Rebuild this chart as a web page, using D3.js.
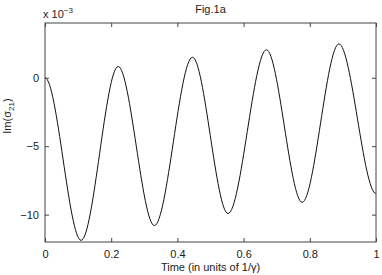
<!DOCTYPE html>
<html>
<head>
<meta charset="utf-8">
<script src="https://cdn.jsdelivr.net/npm/d3@7"></script>
<style>
  body { margin: 0; background: #fff; }
  text { font-family: "Liberation Sans", Arial, sans-serif; fill: #222; }
</style>
</head>
<body>
<div class="PlotHolder"></div>
<script>
// curve turning points (units of 1e-3)
const times = [0, 0.109, 0.221, 0.3305, 0.4455, 0.553, 0.669, 0.777, 0.888, 1.0];
const imSigma = [0, -11.88, 0.82, -10.8, 1.5, -9.92, 2.04, -9.1, 2.47, -8.46];
const xTicks = [0, 0.2, 0.4, 0.6, 0.8, 1];
const xTickLabels = ["0", "0.2", "0.4", "0.6", "0.8", "1"];
const yTicks = [0, -5, -10];
const yTickLabels = ["0", "\u22125", "\u221210"];

const w = 382, h = 275;
const margin = { top: 23, right: 6, bottom: 33, left: 45 };
const width = w - margin.left - margin.right;
const height = h - margin.top - margin.bottom;

// hermite curve with flat tangent at every point (the points are turning points)
class FlatHermite {
  constructor(context) { this._context = context; }
  areaStart() {}
  areaEnd() {}
  lineStart() { this._x = this._y = NaN; this._point = 0; }
  lineEnd() {}
  point(x, y) {
    x = +x; y = +y;
    if (this._point === 0) {
      this._context.moveTo(x, y);
      this._point = 1;
    } else {
      const dx = (x - this._x) / 3;
      this._context.bezierCurveTo(this._x + dx, this._y, x - dx, y, x, y);
    }
    this._x = x; this._y = y;
  }
}
const curveFlat = context => new FlatHermite(context);

const root = d3.select(".PlotHolder").append("svg")
  .attr("width", w)
  .attr("height", h);
const svg = root.append("g")
  .attr("transform", `translate(${margin.left},${margin.top})`);

const xScale = d3.scaleLinear().domain([0, 1]).range([0, width]);
const yScale = d3.scaleLinear().domain([-12, 4]).range([height, 0]);

const axisColor = "#444";
const tickLen = 4;

// curve
const data = times.map((t, i) => ({ t: t, v: imSigma[i] }));
const line = d3.line()
  .x(d => xScale(d.t))
  .y(d => yScale(d.v))
  .curve(curveFlat);

svg.append("path")
  .datum(data)
  .attr("d", line)
  .attr("fill", "none")
  .attr("stroke", "#111")
  .attr("stroke-width", 1);

// box
svg.append("rect")
  .attr("x", 0).attr("y", 0)
  .attr("width", width).attr("height", height)
  .attr("fill", "none")
  .attr("stroke", axisColor)
  .attr("stroke-width", 1);

// ticks (inside, all four sides)
const fmtX = d => xTickLabels[xTicks.indexOf(d)];
const fmtY = d => yTickLabels[yTicks.indexOf(d)];

const styleAxis = g => {
  g.select(".domain").remove();
  g.selectAll("line").attr("stroke", axisColor);
  g.selectAll("text")
    .style("font-family", "'Liberation Sans', Arial, sans-serif")
    .style("font-size", "11px")
    .attr("fill", "#222");
};

svg.append("g")
  .attr("transform", `translate(0,${height})`)
  .call(d3.axisBottom(xScale).tickValues(xTicks).tickFormat(fmtX).tickSizeInner(-tickLen).tickPadding(8))
  .call(styleAxis);

svg.append("g")
  .call(d3.axisTop(xScale).tickValues(xTicks).tickFormat("").tickSizeInner(-tickLen))
  .call(styleAxis);

svg.append("g")
  .call(d3.axisLeft(yScale).tickValues(yTicks).tickFormat(fmtY).tickSizeInner(-tickLen).tickPadding(6))
  .call(styleAxis);

svg.append("g")
  .attr("transform", `translate(${width},0)`)
  .call(d3.axisRight(yScale).tickValues(yTicks).tickFormat("").tickSizeInner(-tickLen))
  .call(styleAxis);

// title
svg.append("text")
  .attr("x", width / 2)
  .attr("y", -10)
  .attr("text-anchor", "middle")
  .style("font-size", "11px")
  .text("Fig.1a");

// exponent label
const expo = svg.append("text")
  .attr("x", -2)
  .attr("y", -5)
  .style("font-size", "11px");
expo.append("tspan").text("x 10");
expo.append("tspan").attr("dy", -5).style("font-size", "8px").text("\u22123");

// x label
svg.append("text")
  .attr("x", width / 2)
  .attr("y", height + 29)
  .attr("text-anchor", "middle")
  .style("font-size", "11px")
  .text("Time (in units of 1/\u03b3)");

// y label
const yl = svg.append("text")
  .attr("transform", `translate(${-34},${yScale(-2.8)}) rotate(-90)`)
  .attr("text-anchor", "middle")
  .style("font-size", "11px");
yl.append("tspan").text("Im(\u03c3");
yl.append("tspan").attr("dy", 3).style("font-size", "8px").text("21");
yl.append("tspan").attr("dy", -3).text(")");
</script>
</body>
</html>
